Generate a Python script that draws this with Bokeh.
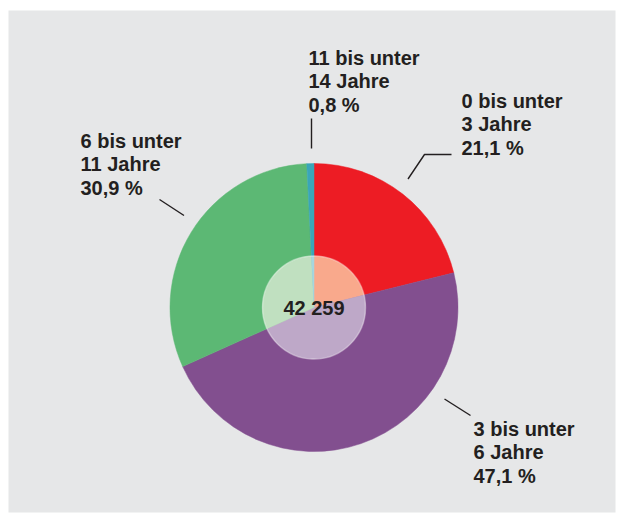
import math
from bokeh.plotting import figure
from bokeh.models import Range1d, ColumnDataSource
from bokeh.core.properties import value
from bokeh.embed import file_html
from bokeh.resources import INLINE

# ---- data ----
categories = ["0 bis unter\n3 Jahre", "3 bis unter\n6 Jahre", "6 bis unter\n11 Jahre", "11 bis unter\n14 Jahre"]
shares = [21.1, 47.1, 30.9, 0.8]
colors = ["#ED1C24", "#824F8F", "#5CB874", "#3AA6B9"]
inner_colors = ["#F9A98C", "#BEA8C8", "#C0E0C0", "#A6D6DF"]
total_label = "42 259"

W, H = 617, 515
FONT = "Liberation Sans"
TXT = "#231F20"
BASE_FIX = -7  # renderer baseline correction

def Y(py):
    return H - py

p = figure(width=W, height=H, output_backend="svg", toolbar_location=None,
           x_range=Range1d(0, W), y_range=Range1d(0, H), min_border=0)
p.axis.visible = False
p.grid.visible = False
p.outline_line_color = None
p.background_fill_color = "white"
p.border_fill_color = "white"

# grey panel
p.quad(left=8, right=615, bottom=Y(512), top=Y(10), fill_color="#E6E7E8", line_color=None)

# pie
cx, cy, R = 313.5, Y(307), 144
tot = sum(shares)
starts, ends = [], []
cum = 0.0
for v in shares:
    a0 = math.pi / 2 - 2 * math.pi * cum / tot
    cum += v
    a1 = math.pi / 2 - 2 * math.pi * cum / tot
    starts.append(a1)
    ends.append(a0)
src = ColumnDataSource(dict(start=starts, end=ends, color=colors, inner=inner_colors))
p.wedge(x=cx, y=cy, radius=R, start_angle="start", end_angle="end",
        fill_color="color", line_color="color", line_width=0.5, source=src)

# inner lighter disc
p.wedge(x=cx, y=cy, radius=51.5, start_angle="start", end_angle="end",
        fill_color="inner", line_color="inner", line_width=0.5, source=src)
p.circle(x=[cx], y=[cy], radius=51.5, fill_color=None,
         line_color="white", line_alpha=0.35, line_width=1.5)
p.text(x=[cx], y=[cy], text=[total_label], text_align="center", text_baseline="middle",
       text_font=value(FONT), text_font_size="20px", text_font_style="bold", text_color=TXT)

# labels
anchors = [(461, 107), (473, 435), (80, 147), (308, 64)]
lx, ly, lt = [], [], []
for cat, v, (ax, ay) in zip(categories, shares, anchors):
    lines = cat.split("\n") + [f"{v:.1f}".replace(".", ",") + " %"]
    for i, t in enumerate(lines):
        lx.append(ax)
        ly.append(Y(ay + 23.5 * i + BASE_FIX))
        lt.append(t)
p.text(x=lx, y=ly, text=lt, text_align="left", text_baseline="alphabetic",
       text_font=value(FONT), text_font_size="20px", text_font_style="bold", text_color=TXT)

# leader lines
leaders_x = [[407.5, 424, 451], [444, 470], [159, 183.5], [311, 311]]
leaders_y = [[Y(178.5), Y(154), Y(154)], [Y(398.5), Y(415)], [Y(199), Y(215)], [Y(118), Y(148)]]
p.multi_line(xs=leaders_x, ys=leaders_y, line_color=TXT, line_width=1.4)

open("out.html", "w").write(file_html(p, INLINE))
